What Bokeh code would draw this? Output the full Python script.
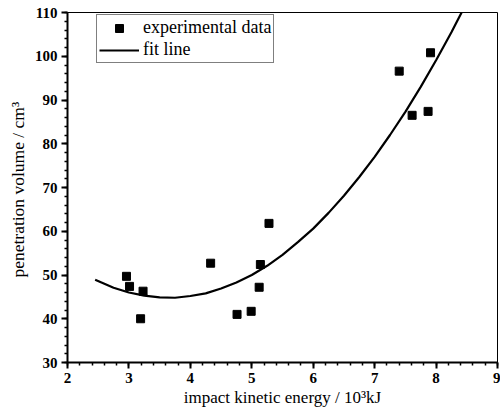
from bokeh.plotting import figure
from bokeh.models import Range1d, SingleIntervalTicker, Legend, LegendItem
from bokeh.embed import file_html
from bokeh.resources import INLINE

# experimental data
exp_x = [2.96, 3.01, 3.23, 3.19, 4.33, 4.76, 4.99, 5.12, 5.14, 5.28, 7.40, 7.61, 7.87, 7.91]
exp_y = [49.7, 47.4, 46.3, 40.0, 52.7, 41.0, 41.7, 47.2, 52.4, 61.8, 96.6, 86.5, 87.4, 100.8]

# fit line
fit_x = [2.45, 2.75, 3.0, 3.25, 3.5, 3.75, 4.0, 4.25, 4.5, 4.75, 5.0, 5.25, 5.5,
         5.75, 6.0, 6.25, 6.5, 6.75, 7.0, 7.25, 7.5, 7.75, 8.0, 8.25, 8.5]
fit_y = [48.9, 47.1, 46.0, 45.3, 44.9, 44.8, 45.2, 45.8, 46.9, 48.3, 50.0, 52.1, 54.6,
         57.5, 60.6, 64.2, 68.1, 72.4, 77.0, 82.0, 87.3, 93.0, 99.1, 105.5, 112.3]

FONT = "Liberation Serif"

p = figure(width=500, height=414, frame_width=430, frame_height=350,
           x_range=Range1d(2, 9), y_range=Range1d(30, 110),
           output_backend="svg", toolbar_location=None,
           min_border_left=67, min_border_top=12, min_border_right=3, min_border_bottom=52)
p.background_fill_color = "white"
p.border_fill_color = "white"
p.outline_line_color = "black"
p.outline_line_width = 1
p.xgrid.visible = False
p.ygrid.visible = False

p.xaxis.ticker = SingleIntervalTicker(interval=1, num_minor_ticks=5)
p.yaxis.ticker = SingleIntervalTicker(interval=10, num_minor_ticks=5)

for axl in (p.xaxis, p.yaxis):
    axl.axis_line_width = 2
    axl.axis_line_color = "black"
    axl.major_tick_line_color = "black"
    axl.minor_tick_line_color = "black"
    axl.major_tick_line_width = 2
    axl.minor_tick_line_width = 1.5
    axl.major_tick_out = 6
    axl.major_tick_in = 0
    axl.minor_tick_out = 3
    axl.minor_tick_in = 0
    axl.major_label_text_font = FONT
    axl.major_label_text_font_size = "15px"
    axl.major_label_text_font_style = "bold"
    axl.major_label_text_color = "black"
    axl.axis_label_text_font = FONT
    axl.axis_label_text_font_style = "normal"
    axl.axis_label_text_color = "black"

p.xaxis.axis_label = "impact kinetic energy / 10³kJ"
p.yaxis.axis_label = "penetration  volume / cm³"
p.xaxis.axis_label_text_font_size = "17px"
p.yaxis.axis_label_text_font_size = "17.5px"
p.xaxis.major_label_standoff = 4
p.xaxis.axis_label_standoff = 2
p.yaxis.major_label_standoff = 4
p.yaxis.axis_label_standoff = 4

line = p.line(fit_x, fit_y, line_color="black", line_width=2.2)
pts = p.scatter(exp_x, exp_y, marker="square", size=8, fill_color="black", line_color="black")

legend = Legend(items=[LegendItem(label="experimental data", renderers=[pts]),
                       LegendItem(label="fit line", renderers=[line])],
                location=(29, 299))
legend.label_text_font = FONT
legend.label_text_font_size = "18px"
legend.label_text_color = "black"
legend.border_line_color = "black"
legend.border_line_width = 1.5
legend.glyph_width = 40
legend.glyph_height = 20
legend.label_height = 20
legend.label_standoff = 4
legend.spacing = 1
legend.padding = 2
legend.margin = 0
legend.background_fill_alpha = 1
p.add_layout(legend, "center")

open("out.html", "w").write(file_html(p, INLINE))
